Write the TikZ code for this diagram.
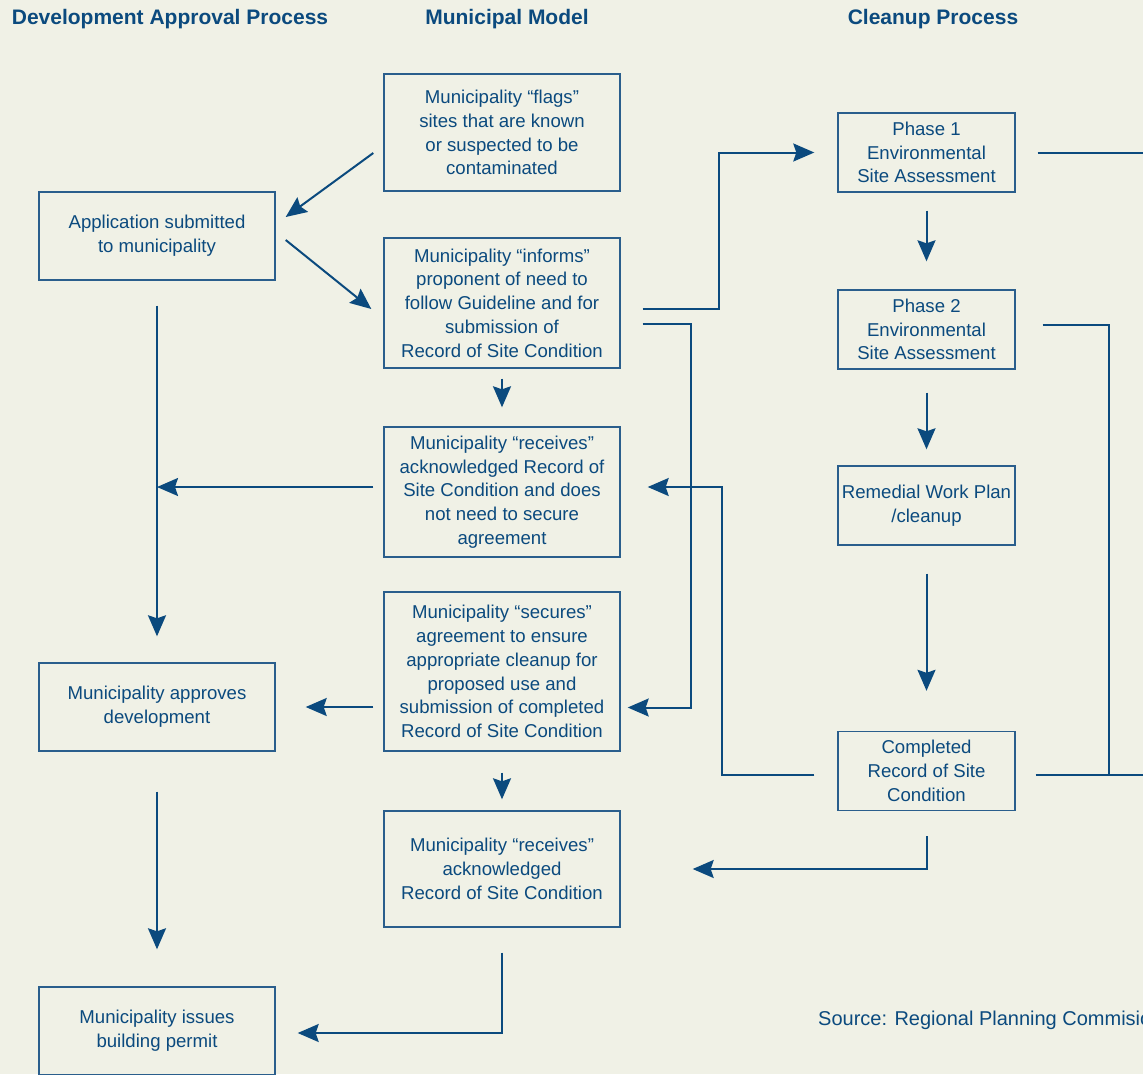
\documentclass[tikz,border=0pt]{standalone}
\usepackage{fontspec}
\setmainfont{Liberation Sans}
\usetikzlibrary{calc,arrows.meta}
\definecolor{bg}{HTML}{F0F1E6}
\definecolor{ink}{HTML}{0B4A7E}
\definecolor{edge}{HTML}{2A5E8C}
\tikzset{
  box/.style={draw=edge, line width=1.4pt, text=ink, align=center, inner sep=0pt,
    font=\fontsize{18.6}{23.7}\selectfont},
  hdr/.style={text=ink, font=\fontsize{21}{24}\selectfont\bfseries},
  arr/.style={draw=ink, line width=2pt, -{Stealth[length=21pt,width=18pt,inset=3pt]}},
  ln/.style={draw=ink, line width=2pt},
}
\begin{document}
\begin{tikzpicture}[x=1pt,y=-1pt]
\useasboundingbox (0,0) rectangle (1143,1074);
\fill[bg] (0,0) rectangle (1143,1074);
\clip (0,0) rectangle (1143,1074);
% headers
\node[hdr] (h1) at (170,19) {Development Approval Process};
\node[hdr] (h2) at (507,19) {Municipal Model};
\node[hdr] (h3) at (933,19) {Cleanup Process};
% left column
\node[box, minimum width=236pt, minimum height=88pt] (A1) at (157,236) {Application submitted\\to municipality};
\node[box, minimum width=236pt, minimum height=88pt] (A2) at (157,707) {Municipality approves\\development};
\node[box, minimum width=236pt, minimum height=88pt] (A3) at (157,1031) {Municipality issues\\building permit};
% middle column
\node[box, minimum width=236pt, minimum height=117pt] (M1) at (502,132.5) {Municipality “flags”\\sites that are known\\or suspected to be\\contaminated};
\node[box, minimum width=236pt, minimum height=130pt] (M2) at (502,303) {Municipality “informs”\\proponent of need to\\follow Guideline and for\\submission of\\Record of Site Condition};
\node[box, minimum width=236pt, minimum height=130pt] (M3) at (502,492) {Municipality “receives”\\acknowledged Record of\\Site Condition and does\\not need to secure\\agreement};
\node[box, minimum width=236pt, minimum height=159pt] (M4) at (502,671.5) {Municipality “secures”\\agreement to ensure\\appropriate cleanup for\\proposed use and\\submission of completed\\Record of Site Condition};
\node[box, minimum width=236pt, minimum height=116pt] (M5) at (502,869) {Municipality “receives”\\acknowledged\\Record of Site Condition};
% right column
\node[box, minimum width=177pt, minimum height=79pt] (R1) at (926.5,152.5) {Phase 1\\Environmental\\Site Assessment};
\node[box, minimum width=177pt, minimum height=79pt] (R2) at (926.5,329.5) {Phase 2\\Environmental\\Site Assessment};
\node[box, minimum width=177pt, minimum height=79pt] (R3) at (926.5,505.5) {Remedial Work Plan\\/cleanup};
\node[box, minimum width=177pt, minimum height=79pt] (R4) at (926.5,771) {Completed\\Record of Site\\Condition};
% source
\node[anchor=west, text=ink, font=\fontsize{20}{23}\selectfont, inner sep=0pt] (src) at (818,1020) {Source: Regional Planning Commision};
% connectors
\draw[arr] ($(M1.west)+(-10,20.5)$) -- ($(A1.east)+(10,-19)$);
\draw[arr] ($(A1.east)+(10,4)$) -- ($(M2.west)+(-12,6)$);
\draw[arr] ($(A1.south)+(0,25)$) -- ($(A2.north)+(0,-26)$);
\coordinate (j1) at ($(M3.west)+(-10,-5)$);
\draw[arr] (j1) -- (j1 -| A1.south);
\draw[arr] ($(M2.south)+(0,10)$) -- ($(M3.north)+(0,-19)$);
\draw[arr] ($(M4.west |- A2.east)+(-10,0)$) -- ($(A2.east)+(30,0)$);
\draw[arr] ($(M4.south)+(0,21)$) -- ($(M5.north)+(0,-11)$);
\draw[arr] ($(A2.south)+(0,40)$) -- ($(A3.north)+(0,-37)$);
\draw[arr] ($(M5.south)+(0,25)$) |- ($(A3.east)+(22,2)$);
\draw[arr] ($(M2.east)+(22,6)$) -| ($(R1.west)+(-118,0)$) -- ($(R1.west)+(-23,0)$);
\draw[arr] ($(M2.east)+(22,21)$) -| ($(M4.east)+(70,36)$) -- ($(M4.east)+(7,36)$);
\draw[arr] ($(R4.west)+(-23,4)$) -| ($(M3.east)+(101,-5)$) -- ($(M3.east)+(27,-5)$);
\draw[ln] ($(R1.east)+(22,0)$) -- ($(R1.east)+(140,0)$);
\draw[ln] ($(R2.east)+(27,-5)$) -| ($(R4.east)+(93,4)$);
\draw[ln] ($(R4.east)+(20,4)$) -- ($(R4.east)+(140,4)$);
\draw[arr] ($(R4.south)+(0,25)$) |- ($(M5.east)+(72,0)$);
\draw[arr] ($(R1.south)+(0,18)$) -- ($(R2.north)+(0,-28)$);
\draw[arr] ($(R2.south)+(0,23)$) -- ($(R3.north)+(0,-16)$);
\draw[arr] ($(R3.south)+(0,28)$) -- ($(R4.north)+(0,-40)$);
\end{tikzpicture}
\end{document}
